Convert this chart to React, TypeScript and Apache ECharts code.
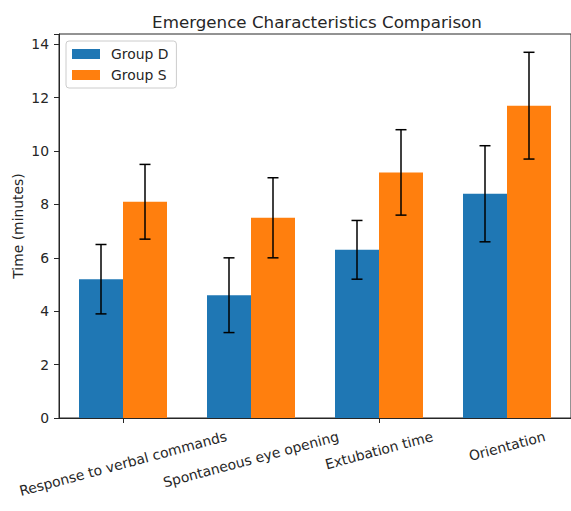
import React, { useEffect, useRef } from 'react';
import * as echarts from 'echarts';

const categories = [
  'Response to verbal commands',
  'Spontaneous eye opening',
  'Extubation time',
  'Orientation',
];
const seriesNames = ['Group D', 'Group S'];
const groupD = [5.2, 4.6, 6.3, 8.4];
const groupDErr = [1.3, 1.4, 1.1, 1.8];
const groupS = [8.1, 7.5, 9.2, 11.7];
const groupSErr = [1.4, 1.5, 1.6, 2.0];
const yTicks = [0, 2, 4, 6, 8, 10, 12, 14];
const yMax = 14.385;

const W = 571;
const H = 511;
const FONT = 'DejaVu Sans';
const SMALL = 13.9;
const BAR_WIDTH = 44;
const ROT = 15;
const BLUE = '#1f77b4';
const ORANGE = '#ff7f0e';
const INK = '#262626';

function textWidth(text: string): number {
  const ctx = document.createElement('canvas').getContext('2d');
  if (!ctx) return text.length * SMALL * 0.6;
  ctx.font = `${SMALL}px "${FONT}"`;
  return ctx.measureText(text).width;
}

// distance from the x axis line to the centre of a rotated, centred label
function labelDrop(text: string): number {
  const r = (ROT * Math.PI) / 180;
  const w = textWidth(text);
  const h = SMALL * 1.17;
  return 10 + (w * Math.sin(r) + h * Math.cos(r)) / 2;
}

function errorSeries(values: number[], errs: number[], offset: number) {
  return {
    type: 'custom',
    silent: true,
    z: 10,
    data: values.map((v, i) => [i, v, errs[i]]),
    encode: { x: 0, y: 1 },
    renderItem: (params: any, api: any) => {
      const i = api.value(0);
      const v = api.value(1);
      const e = api.value(2);
      const top = api.coord([i, v + e]);
      const bot = api.coord([i, v - e]);
      const x = top[0] + offset;
      const cap = 5.5;
      const style = { stroke: '#000', lineWidth: 1.5 };
      return {
        type: 'group',
        children: [
          { type: 'line', shape: { x1: x, y1: top[1], x2: x, y2: bot[1] }, style },
          { type: 'line', shape: { x1: x - cap, y1: top[1], x2: x + cap, y2: top[1] }, style },
          { type: 'line', shape: { x1: x - cap, y1: bot[1], x2: x + cap, y2: bot[1] }, style },
        ],
      };
    },
  };
}

function categoryLabelSeries() {
  return {
    type: 'custom',
    silent: true,
    clip: false,
    z: 20,
    data: categories.map((c, i) => [i, 0]),
    encode: { x: 0, y: 1 },
    renderItem: (params: any, api: any) => {
      const i = api.value(0);
      const p = api.coord([i, 0]);
      const text = categories[i];
      return {
        type: 'text',
        x: p[0],
        y: p[1] + labelDrop(text),
        rotation: (ROT * Math.PI) / 180,
        style: {
          text,
          fontFamily: FONT,
          fontSize: SMALL,
          fill: INK,
          align: 'center',
          verticalAlign: 'middle',
        },
      };
    },
  };
}

export default function App() {
  const ref = useRef<HTMLDivElement>(null);
  useEffect(() => {
    if (!ref.current) return;
    const chart = echarts.init(ref.current, undefined, { renderer: 'svg' });
    chart.setOption({
      animation: false,
      backgroundColor: '#fff',
      textStyle: { fontFamily: FONT },
      title: {
        text: 'Emergence Characteristics Comparison',
        left: 312,
        top: 8,
        textAlign: 'center',
        textStyle: { fontFamily: FONT, fontSize: 16.7, fontWeight: 'normal', color: INK },
      },
      legend: {
        data: seriesNames,
        orient: 'vertical',
        left: 66,
        top: 41,
        padding: [6, 8, 6, 6],
        itemWidth: 28,
        itemHeight: 10,
        itemGap: 7,
        icon: 'rect',
        borderColor: '#cccccc',
        borderWidth: 1,
        borderRadius: 3,
        backgroundColor: 'rgba(255,255,255,0.8)',
        textStyle: { fontFamily: FONT, fontSize: SMALL, color: INK, lineHeight: 14, padding: [0, 0, 0, 6] },
      },
      grid: {
        left: 59,
        right: 0,
        top: 34,
        bottom: 93,
        containLabel: false,
        outerBoundsMode: 'none',
        show: true,
        borderColor: INK,
        borderWidth: 1,
        backgroundColor: 'transparent',
      },
      xAxis: {
        type: 'category',
        data: categories,
        axisLine: { show: true, lineStyle: { color: INK, width: 1 } },
        axisTick: { show: true, alignWithLabel: true, length: 5, lineStyle: { color: INK } },
        axisLabel: { show: false },
        splitLine: { show: false },
      },
      yAxis: {
        type: 'value',
        min: 0,
        max: yMax,
        interval: 2,
        name: 'Time (minutes)',
        nameLocation: 'middle',
        nameGap: 34,
        nameMoveOverlap: false,
        nameTextStyle: { fontFamily: FONT, fontSize: SMALL, color: INK },
        axisLine: { show: true, lineStyle: { color: INK, width: 1 } },
        axisTick: { show: true, length: 5, lineStyle: { color: INK } },
        axisLabel: {
          margin: 10,
          fontFamily: FONT,
          fontSize: SMALL,
          color: INK,
          formatter: (v: number) => (yTicks.includes(v) ? String(v) : ''),
        },
        splitLine: { show: false },
      },
      series: [
        { name: seriesNames[0], type: 'bar', data: groupD, barWidth: BAR_WIDTH, barGap: '0%', itemStyle: { color: BLUE } },
        { name: seriesNames[1], type: 'bar', data: groupS, barWidth: BAR_WIDTH, barGap: '0%', itemStyle: { color: ORANGE } },
        errorSeries(groupD, groupDErr, -BAR_WIDTH / 2),
        errorSeries(groupS, groupSErr, BAR_WIDTH / 2),
        categoryLabelSeries(),
      ],
    });
    return () => chart.dispose();
  }, []);
  return (
    <div
      ref={ref}
      style={{ position: 'absolute', left: 0, top: 0, width: W, height: H, background: '#fff' }}
    />
  );
}
